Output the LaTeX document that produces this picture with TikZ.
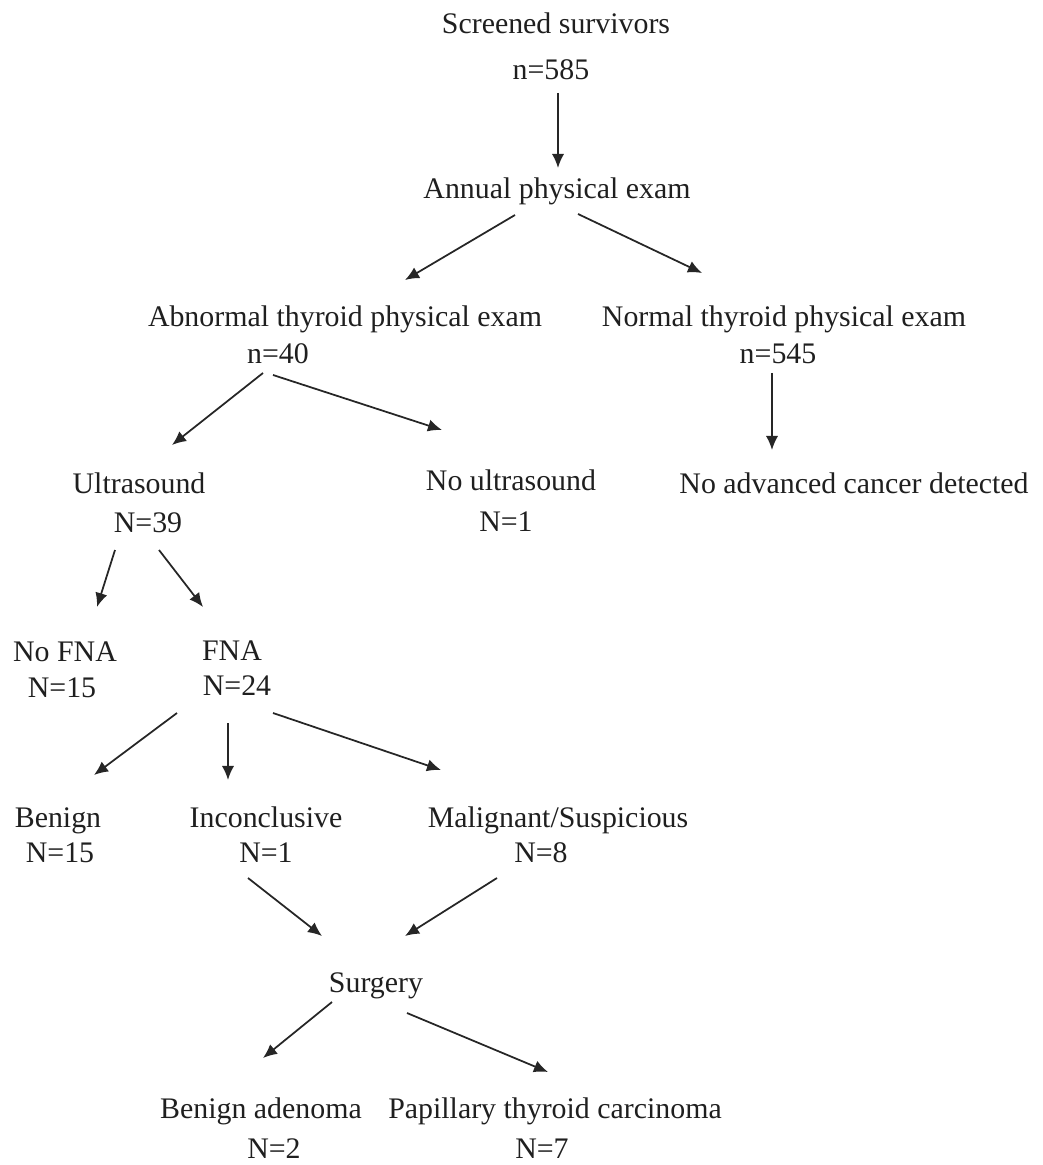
\documentclass[tikz,border=0pt]{standalone}
\usepackage{fontspec}
\setmainfont{Liberation Serif}
\usetikzlibrary{arrows.meta}

\begin{document}
\begin{tikzpicture}[x=0.02cm,y=-0.02cm,
  lbl/.style={anchor=base,inner sep=0pt,text=black!88,font=\fontsize{17}{20}\selectfont},
  arr/.style={-{Latex[length=8pt,width=7pt]},line width=1pt,draw=black!85}]
\useasboundingbox (0,0) rectangle (1042,1165);

\node[lbl] (scr) at (556,34) {Screened survivors};
\node[lbl] (scrn) at (551,80) {n=585};
\node[lbl] (ann) at (557,199) {Annual physical exam};

\node[lbl] (abn) at (345,327) {Abnormal thyroid physical exam};
\node[lbl] (abnn) at (278,364) {n=40};
\node[lbl] (nor) at (784,327) {Normal thyroid physical exam};
\node[lbl] (norn) at (778,364) {n=545};

\node[lbl] (ult) at (139,493) {Ultrasound};
\node[lbl] (ultn) at (148,532) {N=39};
\node[lbl] (nou) at (511,490) {No ultrasound};
\node[lbl] (noun) at (506,531) {N=1};
\node[lbl] (noadv) at (854,493) {No advanced cancer detected};

\node[lbl] (nofna) at (65,661) {No FNA};
\node[lbl] (nofnan) at (62,697) {N=15};
\node[lbl] (fna) at (232,660) {FNA};
\node[lbl] (fnan) at (237,695) {N=24};

\node[lbl] (ben) at (58,827) {Benign};
\node[lbl] (benn) at (60,862) {N=15};
\node[lbl] (inc) at (266,827) {Inconclusive};
\node[lbl] (incn) at (266,862) {N=1};
\node[lbl] (mal) at (558,827) {Malignant/Suspicious};
\node[lbl] (maln) at (541,862) {N=8};

\node[lbl] (sur) at (376,992) {Surgery};

\node[lbl] (bad) at (261,1118) {Benign adenoma};
\node[lbl] (badn) at (274,1158) {N=2};
\node[lbl] (pap) at (555,1118) {Papillary thyroid carcinoma};
\node[lbl] (papn) at (542,1158) {N=7};

% arrows
\draw[arr] ([shift={(7,13)}]scrn.base) -- ([shift={(1,-31)}]ann.base);
\draw[arr] ([shift={(-42,16)}]ann.base) -- ([shift={(60,-47)}]abn.base);
\draw[arr] ([shift={(21,15)}]ann.base) -- ([shift={(-82,-54)}]nor.base);
\draw[arr] ([shift={(-15,9)}]abnn.base) -- ([shift={(33,-48)}]ult.base);
\draw[arr] ([shift={(-5,11)}]abnn.base) -- ([shift={(-69,-60)}]nou.base);
\draw[arr] ([shift={(-6,9)}]norn.base) -- ([shift={(-82,-43)}]noadv.base);
\draw[arr] ([shift={(-33,18)}]ultn.base) -- ([shift={(32,-54)}]nofna.base);
\draw[arr] ([shift={(11,18)}]ultn.base) -- ([shift={(-29,-53)}]fna.base);
\draw[arr] ([shift={(-60,18)}]fnan.base) -- ([shift={(36,-52)}]ben.base);
\draw[arr] ([shift={(-9,28)}]fnan.base) -- ([shift={(-38,-47)}]inc.base);
\draw[arr] ([shift={(36,18)}]fnan.base) -- ([shift={(-117,-57)}]mal.base);
\draw[arr] ([shift={(-18,16)}]incn.base) -- ([shift={(-54,-56)}]sur.base);
\draw[arr] ([shift={(-44,16)}]maln.base) -- ([shift={(29,-56)}]sur.base);
\draw[arr] ([shift={(-44,10)}]sur.base) -- ([shift={(2,-60)}]bad.base);
\draw[arr] ([shift={(31,21)}]sur.base) -- ([shift={(-7,-46)}]pap.base);
\end{tikzpicture}
\end{document}
